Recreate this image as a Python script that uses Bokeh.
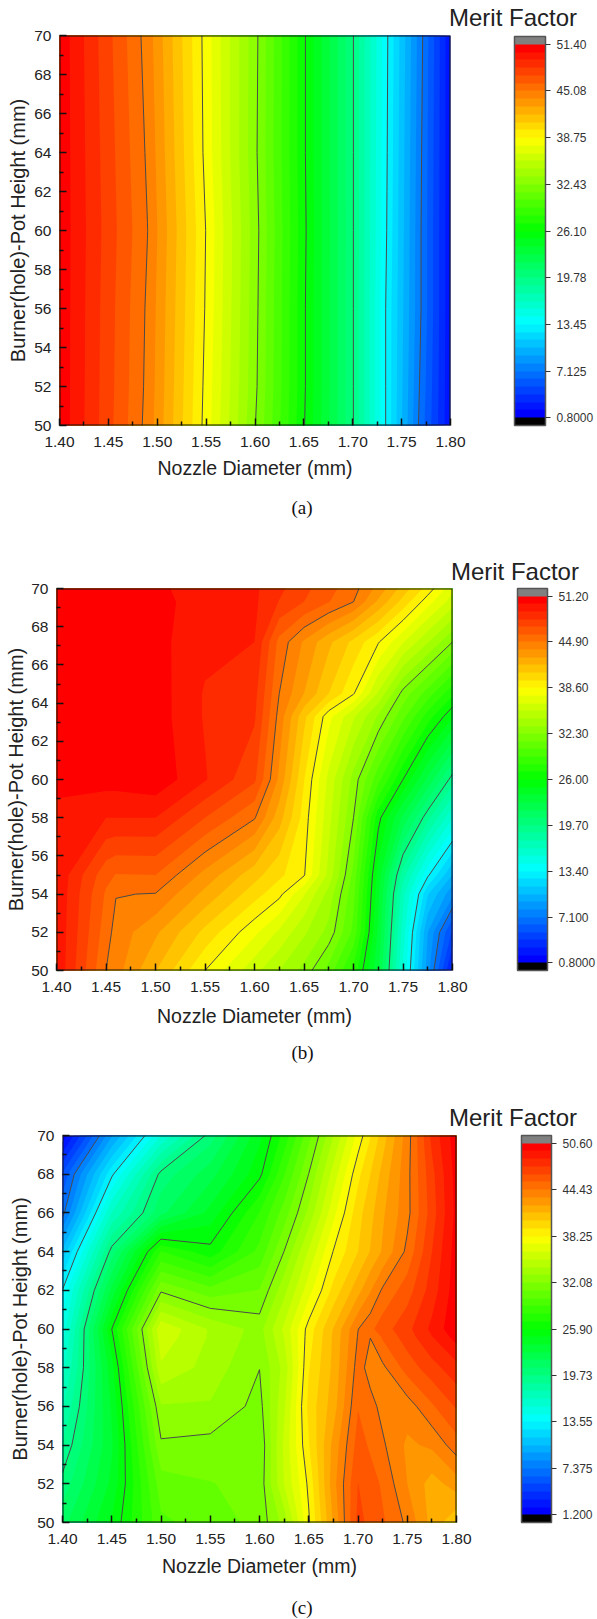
from bokeh.plotting import figure
from bokeh.models import BoxAnnotation, ColorBar, FixedTicker, LinearColorMapper, NumeralTickFormatter, Title
from bokeh.embed import file_html
from bokeh.resources import INLINE
import numpy as np

x_ticks = [1.40, 1.45, 1.50, 1.55, 1.60, 1.65, 1.70, 1.75, 1.80]
x_minor = [1.425, 1.475, 1.525, 1.575, 1.625, 1.675, 1.725, 1.775]
y_ticks = [50, 52, 54, 56, 58, 60, 62, 64, 66, 68, 70]
y_minor = [51, 53, 55, 57, 59, 61, 63, 65, 67, 69]

x_a = [1.40, 1.49, 1.55, 1.605, 1.65, 1.70, 1.735, 1.77, 1.80]
y_a = [50, 52, 56, 60, 64, 70]
z_a = [
    [51.1, 44.7, 38.3, 31.9, 26.2, 19.9, 13.2, 6.6, 2.0],
    [51.1, 44.8, 38.4, 32.1, 26.3, 19.9, 13.2, 6.8, 2.0],
    [51.1, 44.9, 38.6, 32.2, 26.3, 19.9, 13.2, 7.1, 2.0],
    [51.1, 45.1, 38.7, 32.3, 26.4, 19.9, 13.4, 7.1, 2.0],
    [51.1, 44.9, 38.4, 32.1, 26.3, 19.9, 13.5, 7.2, 2.0],
    [51.1, 44.6, 38.3, 32.2, 26.3, 19.9, 13.6, 7.4, 2.0],
]
ticks_a = [0.8, 7.125, 13.45, 19.78, 26.10, 32.43, 38.75, 45.08, 51.40]
labels_a = ["0.8000", "7.125", "13.45", "19.78", "26.10", "32.43", "38.75", "45.08", "51.40"]

x_b = [1.40, 1.45, 1.46, 1.50, 1.55, 1.60, 1.625, 1.65, 1.675, 1.70, 1.725, 1.75, 1.775, 1.80]
y_b = [50, 52, 54, 55, 58, 60, 63.3, 64.5, 67.2, 69.3, 70]
z_b = [
    [50.0, 44.9, 44.3, 41.8, 38.6, 35.8, 34.4, 33.0, 30.8, 27.8, 23.0, 15.4, 8.6, 2.5],
    [50.0, 45.4, 44.5, 43.0, 40.4, 37.8, 36.3, 34.6, 33.0, 29.9, 23.7, 16.0, 9.2, 4.8],
    [50.0, 45.8, 44.95, 44.85, 42.5, 40.1, 38.9, 36.6, 34.0, 30.5, 24.2, 16.9, 11.4, 8.4],
    [50.0, 46.3, 45.9, 45.95, 43.5, 41.1, 39.9, 38.7, 35.1, 30.9, 24.5, 18.1, 13.6, 10.2],
    [49.8, 49.1, 49.1, 49.1, 47.0, 45.0, 42.2, 39.2, 35.8, 32.3, 26.4, 22.6, 19.0, 15.6],
    [50.5, 50.6, 50.6, 50.9, 49.2, 47.2, 43.6, 39.7, 36.2, 32.95, 29.5, 26.0, 22.6, 19.2],
    [50.8, 50.7, 50.7, 50.7, 49.0, 48.2, 44.5, 41.0, 37.9, 35.6, 33.2, 30.5, 27.6, 25.1],
    [50.9, 50.7, 50.7, 50.7, 49.0, 48.4, 44.9, 42.8, 40.7, 38.7, 35.3, 31.9, 29.7, 27.3],
    [51.0, 50.9, 50.9, 50.5, 49.4, 49.1, 45.6, 43.7, 42.0, 40.4, 38.7, 36.6, 34.5, 32.3],
    [51.1, 51.0, 51.0, 50.4, 49.8, 49.3, 48.0, 47.0, 46.0, 44.9, 42.6, 40.3, 38.0, 36.0],
    [51.1, 51.0, 51.0, 50.3, 49.8, 49.3, 48.3, 47.3, 46.3, 45.3, 43.5, 41.3, 39.2, 36.8],
]
ticks_b = [0.8, 7.1, 13.4, 19.7, 26.0, 32.3, 38.6, 44.9, 51.2]
labels_b = ["0.8000", "7.100", "13.40", "19.70", "26.00", "32.30", "38.60", "44.90", "51.20"]

x_c = [1.40, 1.45, 1.50, 1.55, 1.60, 1.625, 1.65, 1.675, 1.70, 1.7125, 1.725, 1.75, 1.775, 1.80]
y_c = [50, 52, 54, 56, 58, 59.6, 60, 62, 64, 66, 68, 70]
z_c = [
    [21.4, 25.0, 29.8, 30.5, 31.4, 33.5, 38.1, 42.5, 46.8, 46.2, 45.6, 44.2, 42.0, 40.5],
    [20.1, 24.1, 30.6, 31.0, 31.4, 35.2, 38.5, 43.0, 46.5, 45.9, 45.3, 43.4, 41.9, 42.9],
    [18.8, 23.7, 31.9, 31.7, 31.2, 35.4, 39.2, 42.7, 45.9, 45.3, 44.6, 43.2, 43.6, 45.0],
    [17.5, 24.0, 33.0, 33.0, 31.7, 35.0, 39.6, 41.9, 45.4, 44.8, 44.1, 43.9, 45.3, 46.6],
    [16.2, 24.5, 35.0, 33.7, 32.1, 34.5, 39.2, 41.6, 44.9, 44.0, 44.2, 45.9, 47.1, 48.2],
    [15.2, 25.6, 35.8, 34.0, 32.6, 35.2, 38.8, 41.5, 44.5, 44.45, 45.6, 47.0, 48.5, 50.0],
    [14.9, 25.9, 36.0, 34.0, 32.7, 35.4, 38.7, 41.4, 44.4, 45.2, 46.0, 47.2, 48.8, 50.4],
    [13.6, 23.1, 31.9, 30.4, 31.1, 33.8, 36.8, 39.6, 42.0, 43.3, 44.6, 46.0, 48.0, 50.2],
    [10.7, 20.2, 28.0, 26.3, 29.3, 32.1, 35.3, 38.3, 40.3, 41.4, 42.5, 44.7, 47.5, 50.1],
    [7.0, 16.7, 21.5, 24.2, 28.0, 30.5, 33.4, 36.9, 39.9, 41.0, 42.2, 44.1, 47.0, 49.9],
    [5.5, 13.3, 20.1, 22.4, 25.6, 28.9, 32.1, 35.6, 39.0, 40.3, 41.7, 44.1, 47.2, 50.0],
    [1.5, 9.3, 15.6, 20.2, 24.6, 27.3, 30.7, 34.1, 37.6, 39.2, 40.8, 43.9, 47.8, 50.2],
]
ticks_c = [1.2, 7.375, 13.55, 19.73, 25.90, 32.08, 38.25, 44.43, 50.60]
labels_c = ["1.200", "7.375", "13.55", "19.73", "25.90", "32.08", "38.25", "44.43", "50.60"]

X_TITLE = "Nozzle Diameter (mm)"
Y_TITLE = "Burner(hole)-Pot Height (mm)"
BAR_TITLE = "Merit Factor"


def rainbow(n):
    anchors = np.array([[0, 0, 255], [0, 255, 255], [0, 255, 0], [255, 255, 0], [255, 0, 0]], float)
    t = np.linspace(0, 4, n)
    out = []
    for v in t:
        i = min(int(v), 3)
        c = anchors[i] + (anchors[i + 1] - anchors[i]) * (v - i)
        out.append("#%02x%02x%02x" % tuple(int(round(k)) for k in c))
    return out


PAL = rainbow(48)


def panel(x, y, z, ticks, labels, tag, left, top, fw, fh, total_h, bar_x, bar_w, bar_top,
          title_x, tag_x, title_stand, title_valign, tag_stand, xstand, ystand):
    p = figure(
        output_backend="svg", toolbar_location=None,
        x_range=(1.40, 1.80), y_range=(50, 70),
        frame_width=fw, frame_height=fh,
        min_border_left=left, min_border_top=top,
        min_border_right=597 - left - fw, min_border_bottom=total_h - top - fh,
        x_axis_label=X_TITLE, y_axis_label=Y_TITLE,
        background_fill_color="white", border_fill_color="white",
    )
    p.grid.visible = False
    p.outline_line_color = None
    for ax, maj, mnr in ((p.xaxis[0], x_ticks, x_minor), (p.yaxis[0], y_ticks, y_minor)):
        ax.ticker = FixedTicker(ticks=maj, minor_ticks=mnr)
        ax.major_tick_in = 7
        ax.major_tick_out = 0
        ax.minor_tick_in = 4
        ax.minor_tick_out = 0
        ax.major_tick_line_color = "#111111"
        ax.minor_tick_line_color = "#111111"
        ax.major_tick_line_width = 1.5
        ax.minor_tick_line_width = 1.5
        ax.axis_line_color = None
        ax.major_label_text_font = "Liberation Sans"
        ax.major_label_text_font_size = "15.5px"
        ax.major_label_text_color = "#222222"
        ax.axis_label_text_font = "Liberation Sans"
        ax.axis_label_text_font_style = "normal"
        ax.axis_label_text_color = "#222222"
    p.xaxis[0].axis_label_text_font_size = "19.5px"
    p.yaxis[0].axis_label_text_font_size = "20px"
    p.xaxis[0].formatter = NumeralTickFormatter(format="0.00")
    p.xaxis[0].major_label_standoff = 11
    p.xaxis[0].axis_label_standoff = xstand
    p.yaxis[0].major_label_standoff = 8
    p.yaxis[0].axis_label_standoff = ystand
    p.yaxis[0].major_label_orientation = "horizontal"

    lo, hi = ticks[0], ticks[-1]
    step = (hi - lo) / 48
    levels = np.linspace(lo, hi, 49)
    zz = np.array(z, float)
    xx, yy = np.array(x), np.array(y)
    # each band is laid over the one below it, so no hairline seams show in SVG
    for i in range(48):
        p.contour(xx, yy, zz, [levels[i], hi + 1], fill_color=[PAL[i]], line_color=None)
    p.contour(xx, yy, zz, np.array(ticks[1:-1]), line_color="#4a4a4a", line_width=1)
    p.add_layout(BoxAnnotation(left=1.40, right=1.80, bottom=50, top=70, fill_alpha=0,
                               line_color="#111111", line_width=2, line_alpha=1))

    mapper = LinearColorMapper(palette=["#000000"] + PAL + ["#808080"], low=lo - step, high=hi + step)
    cb = ColorBar(
        color_mapper=mapper, ticker=FixedTicker(ticks=ticks),
        major_label_overrides=dict(zip(ticks, labels)),
        location=(bar_x - left, 0), width=bar_w, height=fh - bar_top,
        padding=0, margin=0,
        background_fill_alpha=0, border_line_color=None,
        bar_line_color="#555555", bar_line_width=1.5,
        major_tick_in=0, major_tick_out=5, major_tick_line_color="#333333",
        minor_tick_line_color=None,
        major_label_text_font="Liberation Sans", major_label_text_font_size="12px",
        major_label_text_color="#333333", label_standoff=6,
    )
    p.add_layout(cb)

    p.add_layout(Title(text=BAR_TITLE, align="left", offset=title_x - left, standoff=title_stand,
                       vertical_align=title_valign,
                       text_font="Liberation Sans", text_font_size="24px", text_font_style="normal",
                       text_color="#222222"), "above")
    p.add_layout(Title(text=tag, align="left", offset=tag_x - left, standoff=tag_stand,
                       text_font="Liberation Serif", text_font_size="19px", text_font_style="normal",
                       text_color="#111111"), "below")
    return p


pa = panel(x_a, y_a, z_a, ticks_a, labels_a, "(a)", 59, 35, 391, 390, 540, 514, 31, 1,
           448.5, 291, 5, "top", 26, 7, 2)
pb = panel(x_b, y_b, z_b, ticks_b, labels_b, "(b)", 56, 48, 396, 382, 550, 517, 30, 0,
           450.4, 291, 7, "bottom", 20, 10, 1)
pc = panel(x_c, y_c, z_c, ticks_c, labels_c, "(c)", 62, 45, 394, 387, 529, 521, 30, 0,
           448.5, 291, 9, "bottom", 30, 8, 3)

html = file_html([pa, pb, pc], INLINE).replace("<body>", '<body style="margin:0;overflow:hidden">')
open("out.html", "w").write(html)
